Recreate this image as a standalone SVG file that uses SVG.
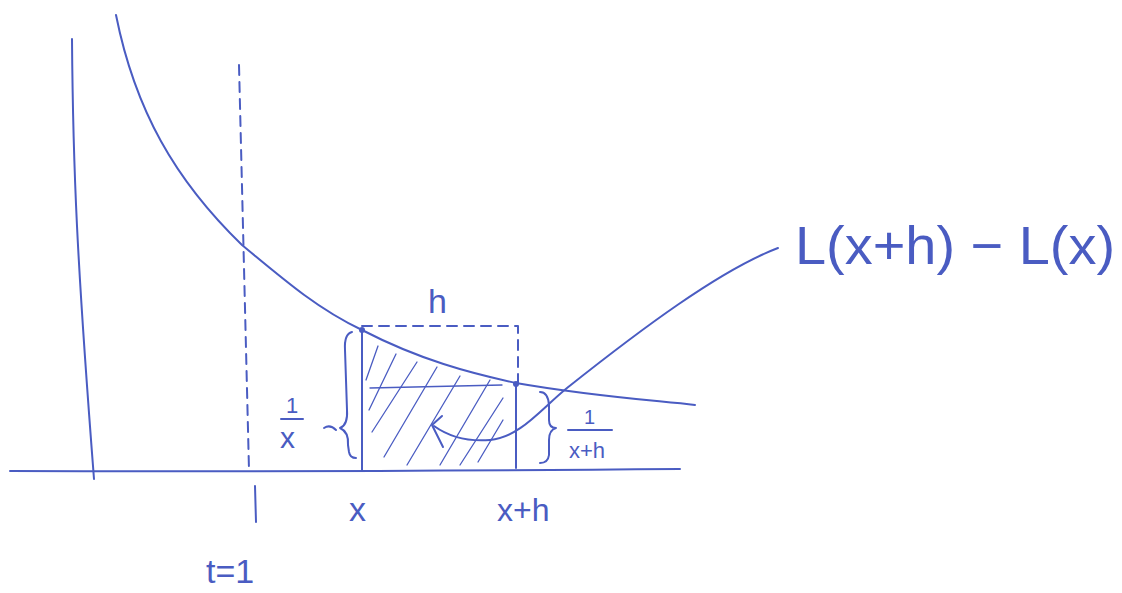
<svg xmlns="http://www.w3.org/2000/svg" width="1122" height="593" viewBox="0 0 1122 593">
<style>
.s{fill:none;stroke:#4a5cc2;stroke-width:2;stroke-linecap:round;stroke-linejoin:round}
.d{stroke-dasharray:10 7}
.h{stroke-width:1.3}
.t{font-family:"Liberation Sans",sans-serif;fill:#4a5cc2}
</style>
<rect width="1122" height="593" fill="#fff"/>
<g id="axes">
<path class="s" d="M10,471 Q300,472 680,469"/>
<path class="s" d="M72,39 C73,170 77,260 94,479"/>
</g>
<g id="curve">
<path class="s" d="M116,15 C135,110 175,180 242,245 C290,285 320,310 362,330 C420,360 470,373 516,383 C590,396 650,400 695,405"/>
</g>
<g id="t1">
<path class="s d" d="M239,65 L249,470"/>
<path class="s" d="M255,486 L256,522"/>
<text class="t" x="206" y="583" font-size="34">t=1</text>
</g>
<g id="strip">
<path class="s d" d="M362,326 L518,326 L518,383"/>
<path class="s" d="M362,330 L362,470"/>
<path class="s" d="M516,383 L516,468"/>
<circle cx="362" cy="330" r="3" fill="#4a5cc2"/>
<circle cx="516" cy="384" r="3" fill="#4a5cc2"/>
<path class="s h" d="M370,388 L502,385"/>
<g class="s h">
<path d="M366,380 L378,346"/>
<path d="M369,410 L396,354"/>
<path d="M372,432 L417,362"/>
<path d="M384,457 L437,367"/>
<path d="M407,465 L460,376"/>
<path d="M440,465 L490,380"/>
<path d="M460,465 L503,398"/>
<path d="M478,462 L503,420"/>
</g>
<text class="t" x="428" y="313" font-size="34">h</text>
</g>
<g id="labels">
<path class="s" d="M352,332 Q344,334 345,350 L347,410 Q348,425 340,428 Q349,432 348,445 L349,452 Q350,458 356,458"/>
<path class="s" d="M324,428 Q330,424 336,430"/>
<path class="s" d="M281,419 L303,419"/>
<text class="t" x="286" y="413" font-size="22">1</text>
<text class="t" x="280" y="448" font-size="30">x</text>
<path class="s" d="M540,392 Q548,392 549,405 L549,420 Q549,428 556,428 Q549,430 549,440 L549,455 Q548,463 540,463"/>
<path class="s" d="M568,430 L612,430"/>
<text class="t" x="584" y="424" font-size="20">1</text>
<text class="t" x="569" y="458" font-size="22">x+h</text>
<text class="t" x="349" y="521" font-size="34">x</text>
<text class="t" x="497" y="521" font-size="32">x+h</text>
</g>
<g id="connectors">
<path class="s" d="M778,248 C720,270 640,330 567,388 C540,410 520,437 490,440 C465,442 448,436 434,426"/>
<path class="s" d="M442,416 L432,425 L443,447"/>
</g>
<g id="label-L">
<text class="t" x="795" y="264" font-size="54" textLength="320" lengthAdjust="spacingAndGlyphs">L(x+h) − L(x)</text>
</g>
</svg>
